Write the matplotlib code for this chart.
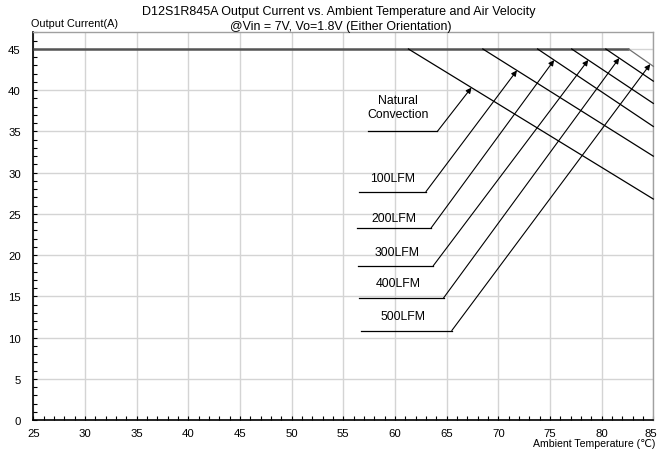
import matplotlib
matplotlib.use("Agg")
import matplotlib.pyplot as plt
import matplotlib.transforms as mtransforms
from matplotlib.ticker import MultipleLocator

plt.rcParams['font.family'] = ['Liberation Sans', 'DejaVu Sans']

# ---- data ----
series = ["Natural\nConvection", "100LFM", "200LFM", "300LFM", "400LFM", "500LFM"]
i_max = 45.0
knee_temp = [61.3, 68.5, 73.8, 77.1, 80.4, 82.6]     # temperature where derating starts
end_temp = [85, 85, 85, 85, 85, 85]
end_current = [26.8, 32.0, 35.6, 38.4, 41.1, 42.9]   # current at 85 C

# annotation layout (label centre, underline extent, arrow tip)
label_xy = [(60.3, 38.0), (59.8, 29.4), (59.9, 24.5), (60.2, 20.4), (60.3, 16.6), (60.8, 12.6)]
underline_y = [35.0, 27.7, 23.3, 18.7, 14.8, 10.85]
underline_x0 = [57.4, 56.5, 56.3, 56.4, 56.5, 56.7]
underline_x1 = [64.1, 63.0, 63.5, 63.7, 64.7, 65.5]
arrow_tip_x = [67.4, 71.8, 75.4, 78.7, 81.7, 84.7]

fig = plt.figure(figsize=(6.57, 4.52), dpi=100)
ax = fig.add_axes([0.0507, 0.0686, 0.9437, 0.8573])
ax.set_xlim(25, 85)
ax.set_ylim(0, 47)

ax.xaxis.set_major_locator(MultipleLocator(5))
ax.xaxis.set_minor_locator(MultipleLocator(1))
ax.yaxis.set_major_locator(MultipleLocator(5))
ax.yaxis.set_minor_locator(MultipleLocator(1))
ax.grid(True, which='major', color='#d4d4d4', linewidth=1.0)
ax.set_axisbelow(True)
ax.tick_params(which='both', direction='in', length=3, width=0.8, color='black',
               labelsize=8.2)
ax.tick_params(axis='y', which='both', pad=9)
ax.tick_params(axis='x', which='both', pad=6)

for s in ['top', 'right']:
    ax.spines[s].set_color('#a0a0a0')
    ax.spines[s].set_linewidth(1.0)
for s in ['left', 'bottom']:
    ax.spines[s].set_color('black')
    ax.spines[s].set_linewidth(1.2)

# flat 45 A line
ax.plot([25, max(knee_temp)], [i_max, i_max], color='#555555', lw=1.8, zorder=3,
        solid_capstyle='butt')

# derating curves
for k, (kt, et, ec) in enumerate(zip(knee_temp, end_temp, end_current)):
    col = '#707070' if k == len(knee_temp) - 1 else 'black'
    ax.plot([kt, et], [i_max, ec], color=col, lw=0.9, zorder=3, clip_on=False)

# annotations
for k in range(len(series)):
    kt, et, ec = knee_temp[k], end_temp[k], end_current[k]
    tx = arrow_tip_x[k]
    ty = i_max + (ec - i_max) * (tx - kt) / (et - kt)
    ax.plot([underline_x0[k], underline_x1[k]], [underline_y[k]] * 2, color='black', lw=0.9)
    ax.annotate('', xy=(tx, ty), xytext=(underline_x1[k], underline_y[k]),
                arrowprops=dict(arrowstyle='-|>', color='black', lw=0.8,
                                mutation_scale=8, shrinkA=0, shrinkB=0))
    ax.text(label_xy[k][0], label_xy[k][1], series[k], ha='center', va='center',
            fontsize=8.8, linespacing=1.2)

fig.canvas.draw()
# keep the last x tick label inside the figure
last = [t for t in ax.get_xticklabels() if t.get_text() in ('85',)]
for t in last:
    t.set_transform(t.get_transform() + mtransforms.ScaledTranslation(-3 / 100, 0, fig.dpi_scale_trans))

fig.text(0.515, 0.973, "D12S1R845A Output Current vs. Ambient Temperature and Air Velocity",
         ha='center', va='center', fontsize=9)
fig.text(0.519, 0.940, "@Vin = 7V, Vo=1.8V (Either Orientation)",
         ha='center', va='center', fontsize=8.9)
fig.text(0.047, 0.947, "Output Current(A)", ha='left', va='center', fontsize=7.8)
fig.text(0.998, 0.018, "Ambient Temperature (\u2103)", ha='right', va='center', fontsize=7.6,
         family=['Liberation Sans', 'DejaVu Sans', 'Noto Sans CJK SC'])

fig.savefig('out.png', dpi=100)
